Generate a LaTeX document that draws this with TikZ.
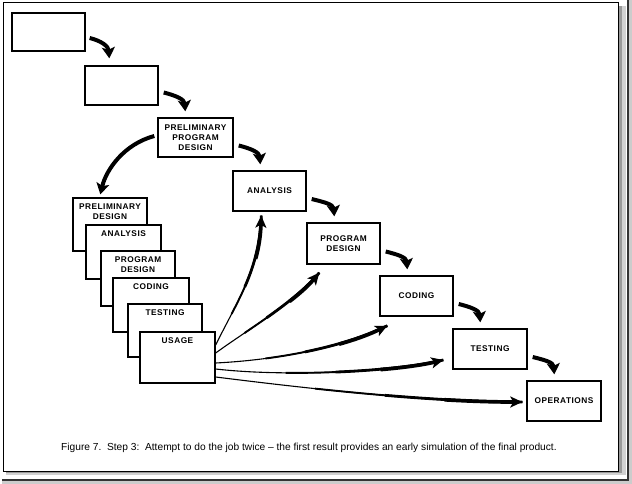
\documentclass[tikz,border=0pt]{standalone}
\usepackage{fontspec}
\setmainfont{Liberation Sans}
\newfontfamily\boxfont[LetterSpace=6]{Liberation Sans Bold}
\usetikzlibrary{arrows.meta}
\tikzset{
  wbox/.style={draw, line width=1.4pt, fill=white, inner sep=0pt, align=center,
    font=\boxfont\fontsize{8.3}{10}\selectfont},
  intext/.style={anchor=north, yshift=-6pt, align=center, inner sep=0pt,
    font=\boxfont\fontsize{8.3}{10}\selectfont},
  flow/.style={line width=4pt, -{Stealth[length=11pt,width=13pt,inset=2.5pt]}},
  fan/.style n args={3}{line width=1.1pt,
    postaction={draw, line width=1.9pt, dash pattern=on 0pt off #1pt on 3000pt off 1pt},
    postaction={draw, line width=2.8pt, dash pattern=on 0pt off #2pt on 3000pt off 1pt},
    postaction={draw, line width=3.7pt, dash pattern=on 0pt off #3pt on 3000pt off 1pt,
      -{Stealth[length=12pt,width=11pt,inset=3pt]}}}
}
\begin{document}
\begin{tikzpicture}[x=1pt,y=-1pt]
\useasboundingbox (0,0) rectangle (632,484);
% frame and shadows
\fill[black!18] (6,6) rectangle (626,475);
\fill[black!40] (6,6) rectangle (622,473);
\draw[fill=white, line width=1pt] (3,3) rectangle (618,471);
\fill[black!20] (627,0) rectangle (632,484);
\fill[black!20] (2,479) rectangle (632,484);
\draw[line width=1.2pt, black!80] (628,0) -- (628,480) -- (2,480);

% waterfall boxes
\node[wbox, minimum width=73pt, minimum height=38pt] (b1) at (48.5,32) {};
\node[wbox, minimum width=73pt, minimum height=39pt] (b2) at (121.5,85.5) {};
\node[wbox, minimum width=75pt, minimum height=39pt] (ppd) at (195.5,137.5) {PRELIMINARY\\PROGRAM\\DESIGN};
\node[wbox, minimum width=73pt, minimum height=40pt] (an) at (269.5,191) {ANALYSIS};
\node[wbox, minimum width=73pt, minimum height=41pt] (pd) at (343.5,243.5) {PROGRAM\\DESIGN};
\node[wbox, minimum width=73pt, minimum height=40pt] (cod) at (416.5,296) {CODING};
\node[wbox, minimum width=74pt, minimum height=40pt] (tst) at (490,349) {TESTING};
\node[wbox, minimum width=74pt, minimum height=40pt] (ops) at (564,401) {OPERATIONS};

% stacked boxes
\node[wbox, minimum width=74pt, minimum height=53pt] (pdS) at (110,224.5) {};
\node[intext] (pdSt) at (pdS.north) {PRELIMINARY\\DESIGN};
\node[wbox, minimum width=75pt, minimum height=54pt] (anS) at (123.5,252) {};
\node[intext] (anSt) at (anS.north) {ANALYSIS};
\node[wbox, minimum width=74pt, minimum height=55pt] (pgS) at (138,278.5) {};
\node[intext] (pgSt) at (pgS.north) {PROGRAM\\DESIGN};
\node[wbox, minimum width=76pt, minimum height=54pt] (coS) at (151,305) {};
\node[intext] (coSt) at (coS.north) {CODING};
\node[wbox, minimum width=74pt, minimum height=53pt] (teS) at (165,330.5) {};
\node[intext] (teSt) at (teS.north) {TESTING};
\node[wbox, minimum width=75pt, minimum height=51pt] (usS) at (177.5,357.5) {};
\node[intext] (usSt) at (usS.north) {USAGE};

% waterfall arrows
\draw[flow] ([xshift=4pt,yshift=-6pt]b1.east) .. controls +(12,3) and +(-1,-12) .. ([xshift=25pt,yshift=7pt]b2.north west);
\draw[flow] ([xshift=5pt,yshift=-7pt]b2.east) .. controls +(12,3) and +(-1,-12) .. ([xshift=28pt,yshift=6pt]ppd.north west);
\draw[flow] ([xshift=5pt,yshift=-8pt]ppd.east) .. controls +(12,3) and +(-1,-12) .. ([xshift=28pt,yshift=6pt]an.north west);
\draw[flow] ([xshift=5pt,yshift=-8pt]an.east) .. controls +(12,3) and +(-1,-12) .. ([xshift=28pt,yshift=6pt]pd.north west);
\draw[flow] ([xshift=5pt,yshift=-8pt]pd.east) .. controls +(12,3) and +(-1,-12) .. ([xshift=28pt,yshift=6pt]cod.north west);
\draw[flow] ([xshift=5pt,yshift=-8pt]cod.east) .. controls +(12,3) and +(-1,-12) .. ([xshift=28pt,yshift=6pt]tst.north west);
\draw[flow] ([xshift=5pt,yshift=-8pt]tst.east) .. controls +(12,3) and +(-1,-12) .. ([xshift=28pt,yshift=6pt]ops.north west);
\draw[flow] ([xshift=-3pt,yshift=1.5pt]ppd.west) .. controls +(-30,8) and +(6,-25) .. ([xshift=28pt,yshift=3pt]pdS.north west);

% fan arrows from usage
\draw[fan={35}{65}{95}] ([yshift=12.5pt]usS.east) .. controls +(22,-45) and +(-2,55) .. ([xshift=29pt,yshift=-4pt]an.south west);
\draw[fan={35}{62}{90}] ([yshift=4.5pt]usS.east) .. controls +(30,-22) and +(-25,30) .. ([xshift=13pt,yshift=-8pt]pd.south west);
\draw[fan={50}{90}{125}] ([yshift=-5.5pt]usS.east) .. controls +(60,-3) and +(-45,22) .. ([xshift=8pt,yshift=-9pt]cod.south west);
\draw[fan={70}{120}{165}] ([yshift=-11.5pt]usS.east) .. controls +(70,8) and +(-50,12) .. ([xshift=-9pt,yshift=-11pt]tst.west);
\draw[fan={100}{170}{230}] ([yshift=-19.5pt]usS.east) .. controls +(80,10) and +(-100,0) .. ([xshift=-4pt,yshift=-1pt]ops.west);

% caption
\node[anchor=base west, inner sep=0pt, font=\fontsize{10.2}{12}\selectfont] (cap) at (61,450)
  {Figure 7.\ \ Step 3:\ \ Attempt to do the job twice -- the first result provides an early simulation of the final product.};
\end{tikzpicture}
\end{document}
